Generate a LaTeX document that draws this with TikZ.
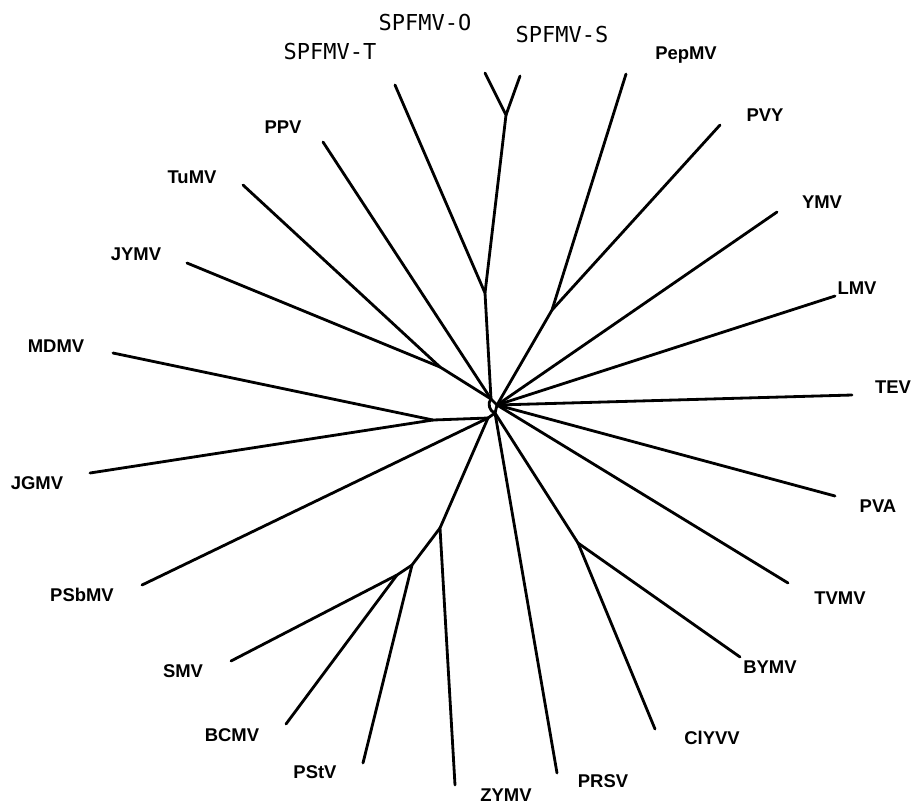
\documentclass[tikz,border=0pt]{standalone}
\usepackage{fontspec}
\setmainfont{Liberation Sans}
\newfontfamily\spfont{DejaVu Sans Mono}
\usetikzlibrary{positioning}

\begin{document}
\begin{tikzpicture}[
    x=0.02cm, y=-0.02cm,
    branch/.style={line width=1.6pt, line cap=round, line join=round},
    lbl/.style={font=\fontsize{10.5}{12}\selectfont\bfseries, inner sep=0pt},
    sp/.style={font=\spfont\fontsize{12.5}{14}\selectfont, inner sep=0pt}
]
\useasboundingbox (0,0) rectangle (915,806);

% --- Nodos internos ---
\coordinate (hub)  at (491,399);
\coordinate (hubR) at (497,405);
\coordinate (hubB) at (495,413);
\coordinate (hubL) at (488,418);
\coordinate (nS)   at (485,293);
\coordinate (nOS)  at (506,115);
\coordinate (nPP)  at (552,310);
\coordinate (nTJ)  at (440,367);
\coordinate (nMJ)  at (433,420);
\coordinate (nLow) at (440,528);
\coordinate (nLow2) at (412,565);
\coordinate (nSB)  at (397,575);
\coordinate (nCB)  at (578,543);

% --- Extremos de las ramas ---
\coordinate (tT)    at (395,85);
\coordinate (tO)    at (485,73);
\coordinate (tS)    at (520,76);
\coordinate (tPep)  at (626,74);
\coordinate (tPVY)  at (720,125);
\coordinate (tYMV)  at (777,212);
\coordinate (tLMV)  at (835,296);
\coordinate (tTEV)  at (852,395);
\coordinate (tPVA)  at (835,496);
\coordinate (tTVMV) at (788,583);
\coordinate (tBYMV) at (740,657);
\coordinate (tClY)  at (655,729);
\coordinate (tPRSV) at (557,773);
\coordinate (tZY)   at (455,785);
\coordinate (tPSt)  at (363,763);
\coordinate (tBC)   at (286,724);
\coordinate (tSMV)  at (231,661);
\coordinate (tPSb)  at (142,585);
\coordinate (tJG)   at (90,473);
\coordinate (tMD)   at (113,353);
\coordinate (tJY)   at (187,263);
\coordinate (tTu)   at (243,185);
\coordinate (tPPV)  at (323,142);

% --- Ramas ---
\draw[branch] (hub) -- (hubR);
\draw[branch] (hub) to[bend right=60] (hubB);
\draw[branch] (hubR) -- (hubB) -- (hubL);
\draw[branch] (hub) -- (nS) -- (tT);
\draw[branch] (nS) -- (nOS) -- (tO);
\draw[branch] (nOS) -- (tS);
\draw[branch] (hub) -- (tPPV);
\draw[branch] (hub) -- (nTJ) -- (tTu);
\draw[branch] (nTJ) -- (tJY);
\draw[branch] (hubR) -- (nPP) -- (tPep);
\draw[branch] (nPP) -- (tPVY);
\draw[branch] (hubR) -- (tYMV);
\draw[branch] (hubR) -- (tLMV);
\draw[branch] (hubR) -- (tTEV);
\draw[branch] (hubR) -- (tPVA);
\draw[branch] (hubR) -- (tTVMV);
\draw[branch] (hubB) -- (nCB) -- (tBYMV);
\draw[branch] (nCB) -- (tClY);
\draw[branch] (hubB) -- (tPRSV);
\draw[branch] (hubL) -- (nMJ) -- (tMD);
\draw[branch] (nMJ) -- (tJG);
\draw[branch] (hubL) -- (tPSb);
\draw[branch] (hubL) -- (nLow) -- (tZY);
\draw[branch] (nLow) -- (nLow2) -- (tPSt);
\draw[branch] (nLow2) -- (nSB) -- (tSMV);
\draw[branch] (nSB) -- (tBC);

% --- Etiquetas ---
\node[sp] (lT) at (330,51) {SPFMV-T};
\node[sp] (lO) at (425,22) {SPFMV-O};
\node[sp] (lS) at (562,34) {SPFMV-S};
\node[lbl] (lPep)  at (686,55)  {PepMV};
\node[lbl] (lPVY)  at (765,115) {PVY};
\node[lbl] (lYMV)  at (822,202) {YMV};
\node[lbl] (lLMV)  at (857,288) {LMV};
\node[lbl] (lTEV)  at (893,387) {TEV};
\node[lbl] (lPVA)  at (878,506) {PVA};
\node[lbl] (lTVMV) at (840,598) {TVMV};
\node[lbl] (lBYMV) at (770,667) {BYMV};
\node[lbl] (lClY)  at (712,738) {ClYVV};
\node[lbl] (lPRSV) at (603,781) {PRSV};
\node[lbl] (lZY)   at (506,795) {ZYMV};
\node[lbl] (lPSt)  at (315,772) {PStV};
\node[lbl] (lBC)   at (232,735) {BCMV};
\node[lbl] (lSMV)  at (183,671) {SMV};
\node[lbl] (lPSb)  at (82,595)  {PSbMV};
\node[lbl] (lJG)   at (37,483)  {JGMV};
\node[lbl] (lMD)   at (56,346)  {MDMV};
\node[lbl] (lJY)   at (136,254) {JYMV};
\node[lbl] (lTu)   at (192,177) {TuMV};
\node[lbl] (lPPV)  at (283,127) {PPV};

\end{tikzpicture}
\end{document}
